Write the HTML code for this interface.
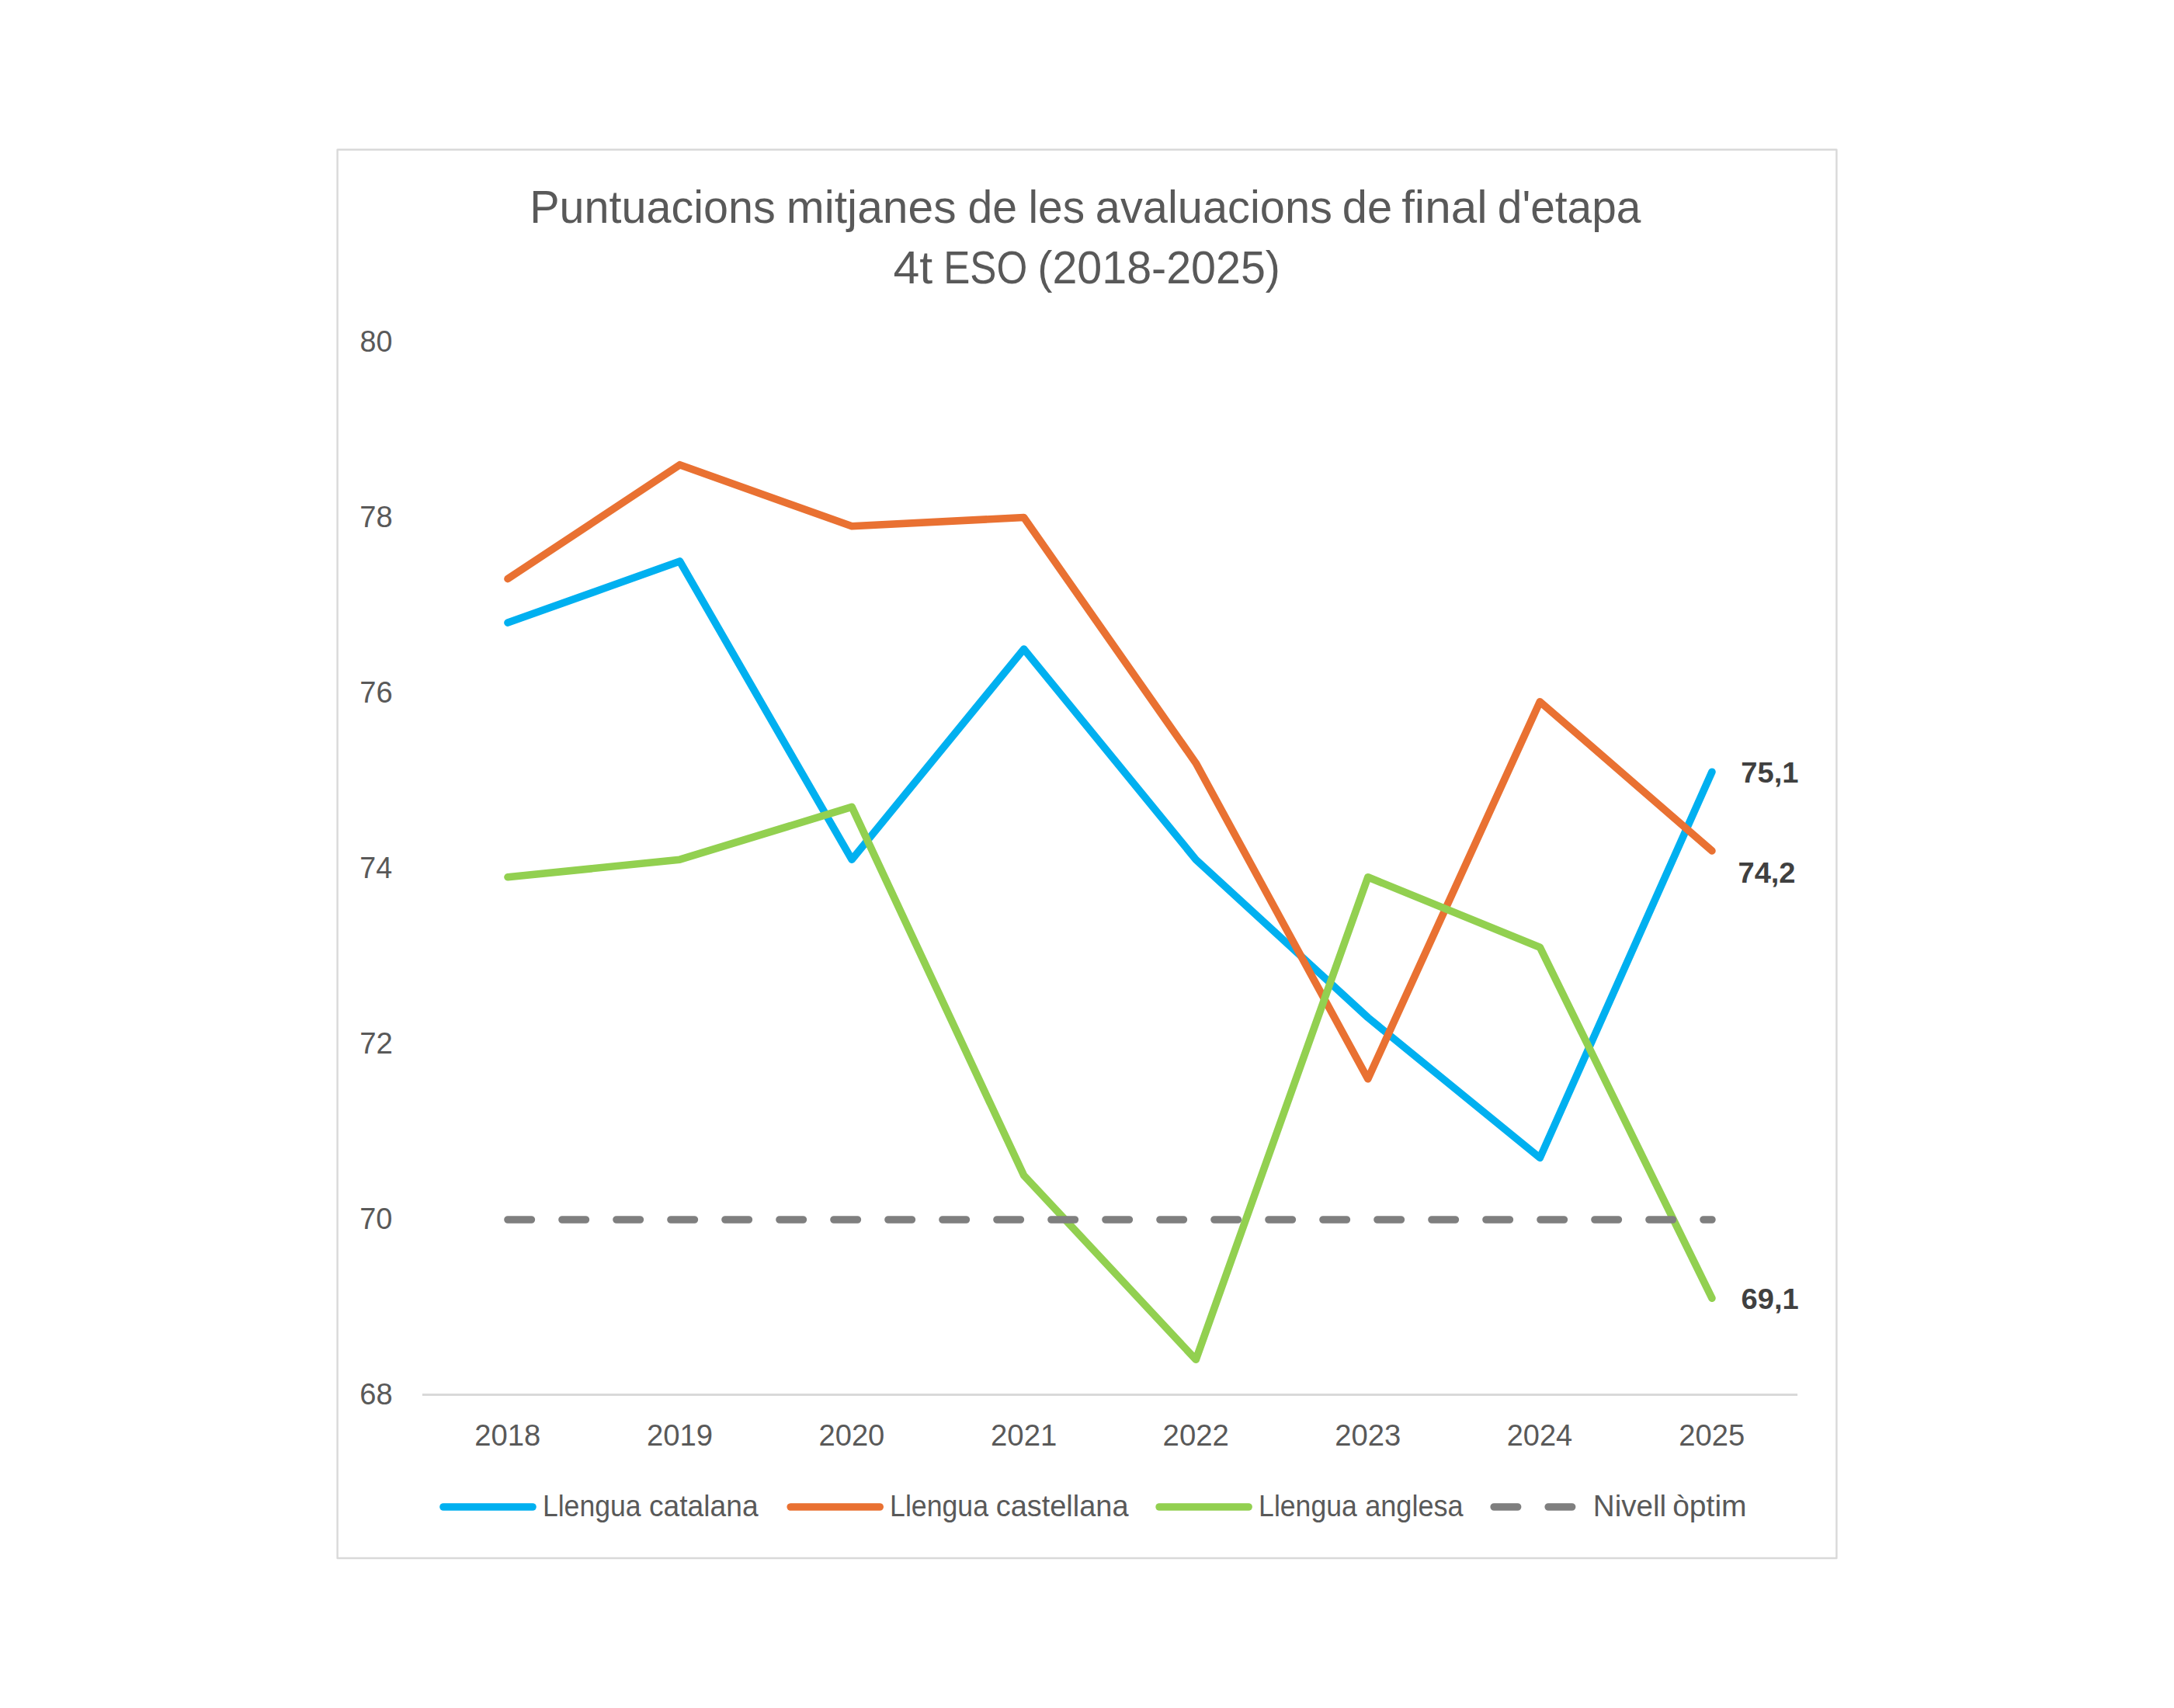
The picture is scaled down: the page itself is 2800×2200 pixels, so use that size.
<!DOCTYPE html>
<html lang="ca">
<head>
<meta charset="utf-8">
<title>Puntuacions mitjanes de les avaluacions de final d'etapa 4t ESO (2018-2025)</title>
<style>
html,body{margin:0;padding:0;background:#fff;}
body{width:2800px;height:2200px;overflow:hidden;}
svg{display:block;font-family:"Liberation Sans",sans-serif;}
</style>
</head>
<body>
<svg width="2800" height="2200" viewBox="0 0 2800 2200">
<rect x="0" y="0" width="2800" height="2200" fill="#ffffff"/>
<!-- chart frame -->
<rect x="434.6" y="192.8" width="1930.8" height="1814.25" fill="#ffffff" stroke="#D9D9D9" stroke-width="2.4" stroke-linejoin="round"/>
<!-- title -->
<text id="t1" y="287.2" font-size="59" fill="#595959"><tspan x="682.18" textLength="316.49" lengthAdjust="spacingAndGlyphs">Puntuacions</tspan> <tspan x="1012.8" textLength="218.72" lengthAdjust="spacingAndGlyphs">mitjanes</tspan> <tspan x="1246.6" textLength="63.54" lengthAdjust="spacingAndGlyphs">de</tspan> <tspan x="1324.47" textLength="72.58" lengthAdjust="spacingAndGlyphs">les</tspan> <tspan x="1410.85" textLength="305.14" lengthAdjust="spacingAndGlyphs">avaluacions</tspan> <tspan x="1728.77" textLength="64.29" lengthAdjust="spacingAndGlyphs">de</tspan> <tspan x="1805.15" textLength="110.38" lengthAdjust="spacingAndGlyphs">final</tspan> <tspan x="1928.81" textLength="184.59" lengthAdjust="spacingAndGlyphs">d'etapa</tspan></text>
<text id="t2" y="365.3" font-size="59" fill="#595959"><tspan x="1150.5" textLength="50.74" lengthAdjust="spacingAndGlyphs">4t</tspan> <tspan x="1215.2" textLength="108.04" lengthAdjust="spacingAndGlyphs">ESO</tspan> <tspan x="1336.34" textLength="312.62" lengthAdjust="spacingAndGlyphs">(2018-2025)</tspan></text>
<!-- value axis labels -->
<text id="y80" y="452.8" font-size="38.6" fill="#595959"><tspan x="463.56" textLength="41.91" lengthAdjust="spacingAndGlyphs">80</tspan></text>
<text id="y78" y="678.8" font-size="38.6" fill="#595959"><tspan x="463.24" textLength="42.41" lengthAdjust="spacingAndGlyphs">78</tspan></text>
<text id="y76" y="904.8" font-size="38.6" fill="#595959"><tspan x="463.24" textLength="42.43" lengthAdjust="spacingAndGlyphs">76</tspan></text>
<text id="y74" y="1130.8" font-size="38.6" fill="#595959"><tspan x="463.27" textLength="41.83" lengthAdjust="spacingAndGlyphs">74</tspan></text>
<text id="y72" y="1356.8" font-size="38.6" fill="#595959"><tspan x="463.23" textLength="42.7" lengthAdjust="spacingAndGlyphs">72</tspan></text>
<text id="y70" y="1582.8" font-size="38.6" fill="#595959"><tspan x="463.25" textLength="42.23" lengthAdjust="spacingAndGlyphs">70</tspan></text>
<text id="y68" y="1808.8" font-size="38.6" fill="#595959"><tspan x="463.26" textLength="42.39" lengthAdjust="spacingAndGlyphs">68</tspan></text>
<!-- category axis -->
<line x1="543.9" y1="1796.5" x2="2315.1" y2="1796.5" stroke="#D9D9D9" stroke-width="3"/>
<text id="x2018" y="1861.8" font-size="38.6" fill="#595959"><tspan x="611.36" textLength="84.98" lengthAdjust="spacingAndGlyphs">2018</tspan></text>
<text id="x2019" y="1861.8" font-size="38.6" fill="#595959"><tspan x="832.92" textLength="85.14" lengthAdjust="spacingAndGlyphs">2019</tspan></text>
<text id="x2020" y="1861.8" font-size="38.6" fill="#595959"><tspan x="1054.49" textLength="84.81" lengthAdjust="spacingAndGlyphs">2020</tspan></text>
<text id="x2021" y="1861.8" font-size="38.6" fill="#595959"><tspan x="1276.04" textLength="85.2" lengthAdjust="spacingAndGlyphs">2021</tspan></text>
<text id="x2022" y="1861.8" font-size="38.6" fill="#595959"><tspan x="1497.6" textLength="85.26" lengthAdjust="spacingAndGlyphs">2022</tspan></text>
<text id="x2023" y="1861.8" font-size="38.6" fill="#595959"><tspan x="1719.17" textLength="85" lengthAdjust="spacingAndGlyphs">2023</tspan></text>
<text id="x2024" y="1861.8" font-size="38.6" fill="#595959"><tspan x="1940.75" textLength="84.42" lengthAdjust="spacingAndGlyphs">2024</tspan></text>
<text id="x2025" y="1861.8" font-size="38.6" fill="#595959"><tspan x="2162.3" textLength="84.92" lengthAdjust="spacingAndGlyphs">2025</tspan></text>
<!-- series -->
<polyline points="653.98,802.1 875.54,723 1097.11,1107.2 1318.67,836 1540.23,1107.2 1761.79,1310.6 1983.36,1491.4 2204.92,994.2" fill="none" stroke="#00B0F0" stroke-width="9.6" stroke-linecap="round" stroke-linejoin="round"/>
<polyline points="653.98,745.6 875.54,598.7 1097.11,677.8 1318.67,666.5 1540.23,982.9 1761.79,1389.7 1983.36,903.8 2204.92,1095.9" fill="none" stroke="#E97132" stroke-width="9.6" stroke-linecap="round" stroke-linejoin="round"/>
<polyline points="653.98,1129.8 875.54,1107.2 1097.11,1039.4 1318.67,1514 1540.23,1751.3 1761.79,1129.8 1983.36,1220.2 2204.92,1672.2" fill="none" stroke="#92D050" stroke-width="9.6" stroke-linecap="round" stroke-linejoin="round"/>
<line x1="653.98" y1="1571" x2="2204.92" y2="1571" stroke="#7F7F7F" stroke-width="9.6" stroke-linecap="round" stroke-dasharray="30.4 39.6"/>
<!-- data labels -->
<text id="d1" y="1008.2" font-size="36.8" font-weight="bold" fill="#404040"><tspan x="2242.36" textLength="74.2" lengthAdjust="spacingAndGlyphs">75,1</tspan></text>
<text id="d2" y="1137.4" font-size="36.8" font-weight="bold" fill="#404040"><tspan x="2238.47" textLength="74.06" lengthAdjust="spacingAndGlyphs">74,2</tspan></text>
<text id="d3" y="1686.3" font-size="36.8" font-weight="bold" fill="#404040"><tspan x="2242.61" textLength="74.05" lengthAdjust="spacingAndGlyphs">69,1</tspan></text>
<!-- legend -->
<line x1="571" y1="1941" x2="686" y2="1941" stroke="#00B0F0" stroke-width="9.6" stroke-linecap="round"/>
<text id="l1" y="1952.9" font-size="38" fill="#595959"><tspan x="698.88" textLength="126.72" lengthAdjust="spacingAndGlyphs">Llengua</tspan> <tspan x="836.02" textLength="140.58" lengthAdjust="spacingAndGlyphs">catalana</tspan></text>
<line x1="1018.2" y1="1941" x2="1133.2" y2="1941" stroke="#E97132" stroke-width="9.6" stroke-linecap="round"/>
<text id="l2" y="1952.9" font-size="38" fill="#595959"><tspan x="1146.07" textLength="126.93" lengthAdjust="spacingAndGlyphs">Llengua</tspan> <tspan x="1282.69" textLength="170.81" lengthAdjust="spacingAndGlyphs">castellana</tspan></text>
<line x1="1493.1" y1="1941" x2="1608.1" y2="1941" stroke="#92D050" stroke-width="9.6" stroke-linecap="round"/>
<text id="l3" y="1952.9" font-size="38" fill="#595959"><tspan x="1621.08" textLength="126.72" lengthAdjust="spacingAndGlyphs">Llengua</tspan> <tspan x="1758.17" textLength="126.53" lengthAdjust="spacingAndGlyphs">anglesa</tspan></text>
<line x1="1924.2" y1="1941" x2="2039.2" y2="1941" stroke="#7F7F7F" stroke-width="9.6" stroke-linecap="round" stroke-dasharray="30.4 39.6"/>
<text id="l4" y="1952.9" font-size="38" fill="#595959"><tspan x="2051.83" textLength="94.35" lengthAdjust="spacingAndGlyphs">Nivell</tspan> <tspan x="2154.16" textLength="95.41" lengthAdjust="spacingAndGlyphs">òptim</tspan></text>
</svg>
</body>
</html>
